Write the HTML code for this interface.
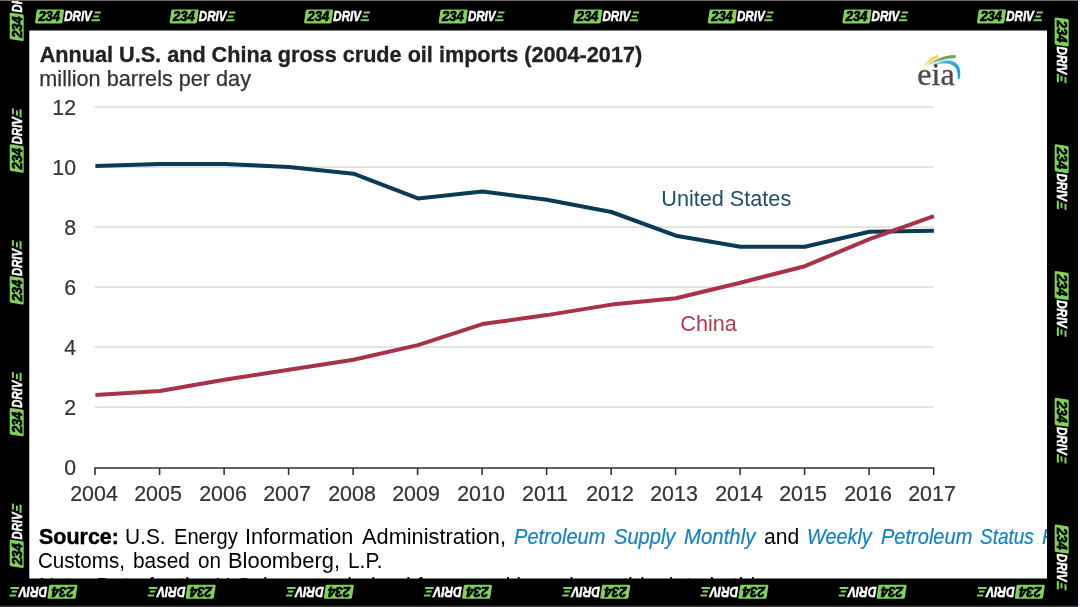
<!DOCTYPE html>
<html>
<head>
<meta charset="utf-8">
<title>Annual U.S. and China gross crude oil imports</title>
<style>
html,body{margin:0;padding:0;}
body{width:1080px;height:607px;overflow:hidden;background:#fff;position:relative;font-family:"Liberation Sans",sans-serif;}
#frame{position:absolute;left:0;top:0;width:1080px;height:607px;}
#card{position:absolute;left:29.3px;top:30.3px;width:1017.7px;height:548.2px;}
.abs{position:absolute;white-space:nowrap;}
#cw{position:absolute;left:0;top:0;width:1018px;height:490px;filter:blur(0.45px);}
#sw{position:absolute;left:0;top:0;width:1018px;height:549px;opacity:0.999;will-change:opacity;}
#title{-webkit-text-stroke:0.3px #222;left:10.4px;top:12.3px;font-size:21.65px;font-weight:bold;color:#222;line-height:24px;}
#sub{-webkit-text-stroke:0.25px #333;left:10px;top:36.6px;font-size:21.65px;color:#333;line-height:24px;}
.yl{-webkit-text-stroke:0.2px #333;position:absolute;width:40px;text-align:right;left:6.9px;font-size:22.2px;transform:scaleX(0.96);transform-origin:100% 50%;line-height:24px;color:#333;}
.xl{-webkit-text-stroke:0.2px #333;position:absolute;width:64px;text-align:center;font-size:22.2px;transform:scaleX(0.965);line-height:24px;color:#333;top:452px;}
#us{left:632px;top:155.7px;font-size:21.65px;line-height:26px;color:#1f4e6b;}
#cn{left:651px;top:280.7px;font-size:21.65px;line-height:26px;color:#b23a50;}
.w{position:absolute;white-space:nowrap;font-size:21.6px;line-height:24px;transform-origin:0 50%;color:#000;}
b.w{-webkit-text-stroke:0.45px #000;}
i.w{-webkit-text-stroke:0.2px #1283c0;}
</style>
</head>
<body>
<div id="card">
<div id="cw">
  <div id="title" class="abs">Annual U.S. and China gross crude oil imports (2004-2017)</div>
  <div id="sub" class="abs">million barrels per day</div>
  <svg id="chart" class="abs" style="left:0;top:0" width="1018" height="548" viewBox="29.3 30.3 1018 548">
    <g stroke="#d4d4d4" stroke-width="1.3">
      <line x1="95" x2="934" y1="107.5" y2="107.5"/>
      <line x1="95" x2="934" y1="167.5" y2="167.5"/>
      <line x1="95" x2="934" y1="227.5" y2="227.5"/>
      <line x1="95" x2="934" y1="287.5" y2="287.5"/>
      <line x1="95" x2="934" y1="347.5" y2="347.5"/>
      <line x1="95" x2="934" y1="407.5" y2="407.5"/>
    </g>
    <path d="M94.4 468.3H934.9 M95.3 468v7.2 M159.9 468v7.2 M224.4 468v7.2 M288.9 468v7.2 M353.4 468v7.2 M417.9 468v7.2 M482.4 468v7.2 M546.9 468v7.2 M611.4 468v7.2 M675.9 468v7.2 M740.4 468v7.2 M804.9 468v7.2 M869.4 468v7.2 M934 468v7.2" stroke="#303030" stroke-width="1.55" fill="none"/>
    <polyline id="usline" fill="none" stroke="#0b3a55" stroke-width="4" stroke-linejoin="round" points="95.7,166.3 160.2,164.3 224.7,164.3 289.2,167.3 353.7,174 418.2,198.7 482.7,191.7 547.2,200 611.7,212.3 676.2,236 740.7,247 805.2,247 869.7,232 934.2,231"/>
    <polyline id="cnline" fill="none" stroke="#a8324a" stroke-width="4" stroke-linejoin="round" points="95.7,395.3 160.2,391.3 224.7,380 289.2,370 353.7,360 418.2,345.4 482.7,324.4 547.2,315.4 611.7,304.9 676.2,298.6 740.7,283 805.2,266.5 869.7,239.4 934.2,216.5"/>
  </svg>
  <svg id="eia" class="abs" style="left:870.7px;top:9.7px;filter:blur(0.5px)" width="90" height="60" viewBox="900 40 90 60">
    <defs>
      <linearGradient id="gy" gradientUnits="userSpaceOnUse" x1="922" y1="68" x2="938" y2="55"><stop offset="0" stop-color="#ffd54a" stop-opacity="0.15"/><stop offset="0.5" stop-color="#ffd040" stop-opacity="0.9"/><stop offset="1" stop-color="#ffd040"/></linearGradient>
      <linearGradient id="gg" gradientUnits="userSpaceOnUse" x1="926" y1="66" x2="956" y2="56"><stop offset="0" stop-color="#79b35a" stop-opacity="0.2"/><stop offset="0.45" stop-color="#6aa84f" stop-opacity="0.95"/><stop offset="1" stop-color="#64a54a"/></linearGradient>
      <linearGradient id="gb" gradientUnits="userSpaceOnUse" x1="928" y1="66" x2="960" y2="70"><stop offset="0" stop-color="#7cc8f0" stop-opacity="0.15"/><stop offset="0.5" stop-color="#3aaae8" stop-opacity="0.95"/><stop offset="1" stop-color="#229de4"/></linearGradient>
    </defs>
    <g style="filter:blur(0.45px)"><path d="M922.4 67.2C925.8 62 930.8 57.4 937.7 54.6L938.6 57.2C932.6 59.6 927.6 63.4 923.6 68Z" fill="url(#gy)"/>
    <path d="M926.5 65.4C932.5 60 943 55.3 955.4 54.9L955.6 57.9C944 58.4 934 61.8 927 66.2Z" fill="url(#gg)"/>
    <path d="M930 65.8C936 61.9 944 59.8 950.4 60.8C958.2 62.2 962 68.4 959.6 78.9L957.6 78.8C958.6 70.8 955.7 65.4 949.7 63.9C944 62.9 937 64 930.5 66.5Z" fill="url(#gb)"/></g>
    <text x="917.3" y="85.4" font-family="Liberation Serif, serif" font-size="31.5" fill="#4c4c4c" stroke="#4c4c4c" stroke-width="0.35" textLength="37.4" lengthAdjust="spacingAndGlyphs">eia</text>
  </svg>
  <div class="yl" style="top:66px">12</div>
  <div class="yl" style="top:126px">10</div>
  <div class="yl" style="top:186px">8</div>
  <div class="yl" style="top:246px">6</div>
  <div class="yl" style="top:306px">4</div>
  <div class="yl" style="top:366px">2</div>
  <div class="yl" style="top:426px">0</div>
  <div class="xl" style="left:32.7px">2004</div>
  <div class="xl" style="left:97.2px">2005</div>
  <div class="xl" style="left:161.7px">2006</div>
  <div class="xl" style="left:226.2px">2007</div>
  <div class="xl" style="left:290.7px">2008</div>
  <div class="xl" style="left:355.2px">2009</div>
  <div class="xl" style="left:419.7px">2010</div>
  <div class="xl" style="left:484.2px">2011</div>
  <div class="xl" style="left:548.7px">2012</div>
  <div class="xl" style="left:613.2px">2013</div>
  <div class="xl" style="left:677.7px">2014</div>
  <div class="xl" style="left:742.2px">2015</div>
  <div class="xl" style="left:806.7px">2016</div>
  <div class="xl" style="left:871.2px">2017</div>
  <div id="us" class="abs">United States</div>
  <div id="cn" class="abs">China</div>
</div>
<div id="sw">
<!--SRC-->
  <b class="w" style="left:9.45px;top:494.32px;transform:scaleX(0.9942);">Source:</b>
  <span class="w" style="left:95.98px;top:494.32px;transform:scaleX(0.9688);">U.S.</span>
  <span class="w" style="left:144.27px;top:494.32px;transform:scaleX(0.9316);">Energy</span>
  <span class="w" style="left:215.89px;top:494.32px;transform:scaleX(1.0027);">Information</span>
  <span class="w" style="left:332.70px;top:494.32px;transform:scaleX(1.0083);">Administration,</span>
  <i class="w" style="left:485.20px;top:494.32px;transform:scaleX(0.9289);color:#1283c0;">Petroleum</i>
  <i class="w" style="left:584.45px;top:494.32px;transform:scaleX(0.9297);color:#1283c0;">Supply</i>
  <i class="w" style="left:654.45px;top:494.32px;transform:scaleX(0.9439);color:#1283c0;">Monthly</i>
  <span class="w" style="left:734.45px;top:494.32px;transform:scaleX(0.9780);">and</span>
  <i class="w" style="left:777.28px;top:494.32px;transform:scaleX(0.9206);color:#1283c0;">Weekly</i>
  <i class="w" style="left:851.40px;top:494.32px;transform:scaleX(0.9279);color:#1283c0;">Petroleum</i>
  <i class="w" style="left:950.70px;top:494.32px;transform:scaleX(0.8792);color:#1283c0;">Status</i>
  <i class="w" style="left:1013.10px;top:494.32px;transform:scaleX(0.9300);color:#1283c0;">Report</i>
  <span class="w" style="left:8.50px;top:518.52px;transform:scaleX(0.9530);">Customs,</span>
  <span class="w" style="left:103.48px;top:518.52px;transform:scaleX(0.9679);">based</span>
  <span class="w" style="left:168.70px;top:518.52px;transform:scaleX(0.9561);">on</span>
  <span class="w" style="left:199.19px;top:518.52px;transform:scaleX(1.0145);">Bloomberg,</span>
  <span class="w" style="left:318.48px;top:518.52px;transform:scaleX(0.9665);">L.P.</span>
<!--/SRC-->
  <div id="l3" class="w" style="left:9.4px;top:543.8px">Note: Data for the U.S. imports derived from weekly and monthly data in this</div>
</div>
</div>
<svg id="frame" style="position:absolute;left:0;top:0;filter:blur(0.3px)" width="1080" height="607" viewBox="0 0 1080 607">
<defs>
<g id="lg">
<path d="M3.4 0H27.9Q29.3 0 29.1 1.4L27.5 12.6Q27.3 14 25.9 14H1.3Q-0.1 14 0.1 12.6L1.8 1.4Q2 0 3.4 0Z" fill="#80d05c"/>
<text x="3.5" y="11.8" font-family="Liberation Sans, sans-serif" font-weight="bold" font-style="italic" font-size="14.2" fill="#000" stroke="#000" stroke-width="0.7" textLength="21.6" lengthAdjust="spacingAndGlyphs">234</text>
<text x="29.3" y="11.8" font-family="Liberation Sans, sans-serif" font-weight="bold" font-style="italic" font-size="14" fill="#fff" stroke="#fff" stroke-width="0.5" textLength="27.6" lengthAdjust="spacingAndGlyphs">DRIV</text>
<path d="M59.9 2.2H66L65.7 4.2H59.6Z M58.7 6.2H64L63.7 8.2H58.4Z M56.7 9.8H65.1L64.8 11.9H56.4Z" fill="#80d05c"/>
</g>
</defs>
<path d="M0 0H1080V607H0Z M29.3 30.4H1047V578.6H29.3Z" fill="#000" fill-rule="evenodd"/>

<use href="#lg" transform="translate(34.9 9.4)"/>
<use href="#lg" transform="translate(169.5 9.4)"/>
<use href="#lg" transform="translate(304.0 9.4)"/>
<use href="#lg" transform="translate(438.6 9.4)"/>
<use href="#lg" transform="translate(573.2 9.4)"/>
<use href="#lg" transform="translate(707.7 9.4)"/>
<use href="#lg" transform="translate(842.3 9.4)"/>
<use href="#lg" transform="translate(976.9 9.4)"/>
<use href="#lg" transform="translate(1068.7 17.3) rotate(90)"/>
<use href="#lg" transform="translate(1068.7 144.1) rotate(90)"/>
<use href="#lg" transform="translate(1068.7 270.9) rotate(90)"/>
<use href="#lg" transform="translate(1068.7 397.7) rotate(90)"/>
<use href="#lg" transform="translate(1068.7 524.5) rotate(90)"/>
<use href="#lg" transform="translate(77.5 598.8) rotate(180) scale(1.032 1)"/>
<use href="#lg" transform="translate(215.7 598.8) rotate(180) scale(1.032 1)"/>
<use href="#lg" transform="translate(353.9 598.8) rotate(180) scale(1.032 1)"/>
<use href="#lg" transform="translate(492.1 598.8) rotate(180) scale(1.032 1)"/>
<use href="#lg" transform="translate(630.3 598.8) rotate(180) scale(1.032 1)"/>
<use href="#lg" transform="translate(768.5 598.8) rotate(180) scale(1.032 1)"/>
<use href="#lg" transform="translate(906.7 598.8) rotate(180) scale(1.032 1)"/>
<use href="#lg" transform="translate(1044.9 598.8) rotate(180) scale(1.032 1)"/>
<use href="#lg" transform="translate(9.7 41.1) rotate(-90) scale(0.978 1)"/>
<use href="#lg" transform="translate(9.7 172.8) rotate(-90) scale(0.978 1)"/>
<use href="#lg" transform="translate(9.7 304.6) rotate(-90) scale(0.978 1)"/>
<use href="#lg" transform="translate(9.7 436.4) rotate(-90) scale(0.978 1)"/>
<use href="#lg" transform="translate(9.7 568.1) rotate(-90) scale(0.978 1)"/>
<rect x="0" y="0" width="1078" height="1" fill="#6f696f"/>
<rect x="0" y="605.7" width="1078" height="1.3" fill="#403e40"/>
<rect x="1078" y="0" width="2" height="607" fill="#fbf0fb"/>
</svg>
</body>
</html>
